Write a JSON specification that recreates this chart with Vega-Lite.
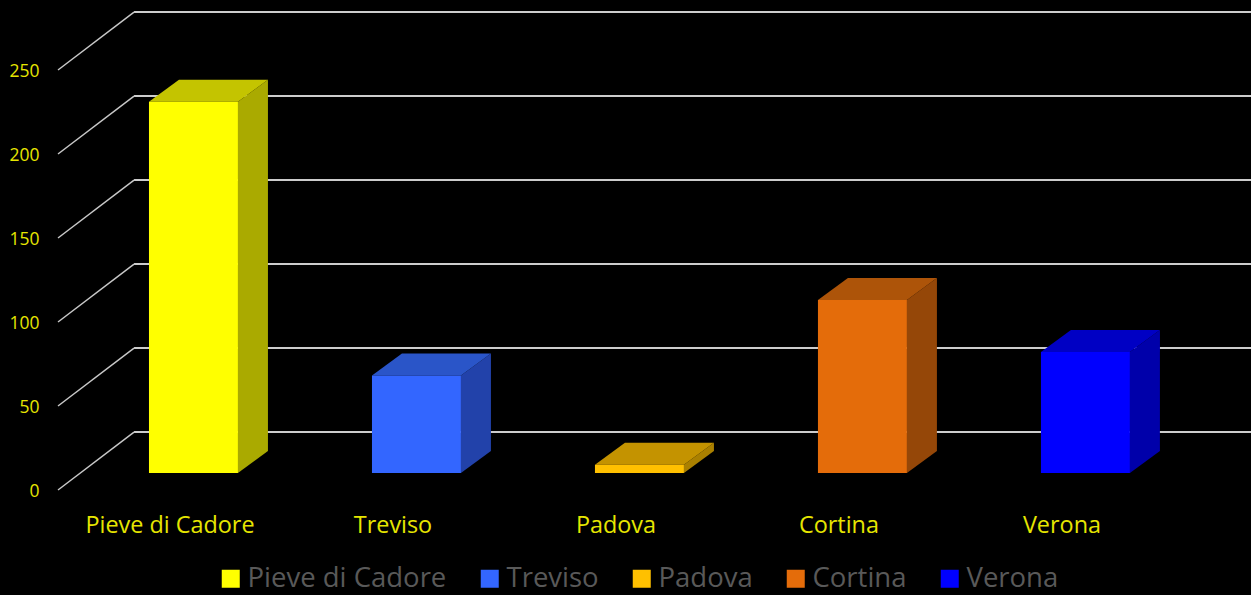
{
"$schema":"https://vega.github.io/schema/vega-lite/v6.json",
"width":1193,"height":490,
"autosize":{"type":"none"},
"padding":{"left":58,"top":0,"right":0,"bottom":105},
"background":"#000000",
"config":{"view":{"stroke":null},"font":"Open Sans","axis":{"grid":false,"domain":false,"ticks":false,"title":null}},
"data":{"values":[
{"city":"Pieve di Cadore","idx":0,"value":221},
{"city":"Treviso","idx":1,"value":58},
{"city":"Padova","idx":2,"value":5},
{"city":"Cortina","idx":3,"value":103},
{"city":"Verona","idx":4,"value":72}
]},
"transform":[
{"calculate":"datum.idx+0.408","as":"xl"},
{"calculate":"datum.idx+0.807","as":"xr"},
{"calculate":"10.1","as":"base"},
{"calculate":"datum.base+datum.value","as":"top"}
],
"layer":[
{"data":{"values":[{"tick":0},{"tick":50},{"tick":100},{"tick":150},{"tick":200},{"tick":250}]},
 "transform":[{"calculate":"0","as":"x0"},{"calculate":"0.341","as":"x1"},{"calculate":"datum.tick+34.5","as":"yb"}],
 "mark":{"type":"rule","color":"#c8c8c8","strokeWidth":1.5},
 "encoding":{
  "x":{"field":"x0","type":"quantitative","scale":{"domain":[0,5.35],"nice":false,"zero":false},
   "axis":{"title":null,"values":[0.5,1.5,2.5,3.5,4.5],"labelExpr":"['Pieve di Cadore','Treviso','Padova','Cortina','Verona'][round(datum.value-0.5)]","labelColor":"#e6e600","labelFontSize":23.4,"labelPadding":24,"labelFont":"Open Sans","labelAngle":0}},
  "x2":{"field":"x1"},
  "y":{"field":"tick","type":"quantitative","scale":{"domain":[0,291.67],"nice":false,"zero":false},
   "axis":{"title":null,"values":[0,50,100,150,200,250],"labelColor":"#e6e600","labelFontSize":17.5,"labelPadding":19,"labelOffset":1,"labelFont":"Open Sans"}},
  "y2":{"field":"yb"}}},
{"data":{"values":[{"tick":0},{"tick":50},{"tick":100},{"tick":150},{"tick":200},{"tick":250}]},
 "transform":[{"calculate":"0.341","as":"x1"},{"calculate":"5.35","as":"x2"},{"calculate":"datum.tick+34.5","as":"yb"}],
 "mark":{"type":"rule","color":"#cccccc","strokeWidth":2},
 "encoding":{
  "x":{"field":"x1","type":"quantitative"},
  "x2":{"field":"x2"},
  "y":{"field":"yb","type":"quantitative"}}},
{"transform":[
  {"calculate":"[0,1]","as":"t"},{"flatten":["t"]},
  {"calculate":"datum.xr+datum.t*0.1345","as":"sx"},
  {"calculate":"datum.top+datum.t*13.1","as":"sy"},
  {"calculate":"datum.base+datum.t*13.1","as":"sy2"}],
 "mark":{"type":"area","orient":"vertical","interpolate":"linear"},
 "encoding":{
  "x":{"field":"sx","type":"quantitative"},
  "y":{"field":"sy","type":"quantitative"},
  "y2":{"field":"sy2"},
  "color":{"field":"city","type":"nominal","legend":null,
   "scale":{"domain":["Pieve di Cadore","Treviso","Padova","Cortina","Verona"],"range":["#aaaa00","#2242aa","#aa8000","#954708","#0000aa"]}}}},
{"transform":[
  {"calculate":"[0,1]","as":"t"},{"flatten":["t"]},
  {"calculate":"datum.xl+datum.t*0.1345","as":"tx"},
  {"calculate":"datum.xr+datum.t*0.1345","as":"tx2"},
  {"calculate":"datum.top+datum.t*13.1","as":"ty"}],
 "mark":{"type":"area","orient":"horizontal","interpolate":"linear"},
 "encoding":{
  "y":{"field":"ty","type":"quantitative"},
  "x":{"field":"tx","type":"quantitative"},
  "x2":{"field":"tx2"},
  "color":{"field":"city","type":"nominal","legend":null,
   "scale":{"domain":["Pieve di Cadore","Treviso","Padova","Cortina","Verona"],"range":["#c4c400","#2a55c8","#c49300","#ad5409","#0000c4"]}}}},
{"mark":{"type":"rect"},
 "encoding":{
  "x":{"field":"xl","type":"quantitative"},
  "x2":{"field":"xr"},
  "y":{"field":"base","type":"quantitative"},
  "y2":{"field":"top"},
  "color":{"field":"city","type":"nominal",
   "scale":{"domain":["Pieve di Cadore","Treviso","Padova","Cortina","Verona"],"range":["#ffff00","#3366ff","#ffc000","#e46c0a","#0000ff"]},
   "legend":{"title":null,"orient":"none","direction":"horizontal","legendX":159,"legendY":565,"symbolType":"square","symbolSize":324,"symbolOpacity":1,"symbolStrokeWidth":0,"labelColor":"#595959","labelFontSize":27.5,"labelFont":"Open Sans","columnPadding":29,"labelOffset":3,"padding":0,"labelLimit":300,"gridAlign":"none"}}}}
],
"resolve":{"scale":{"color":"independent"}}
}
